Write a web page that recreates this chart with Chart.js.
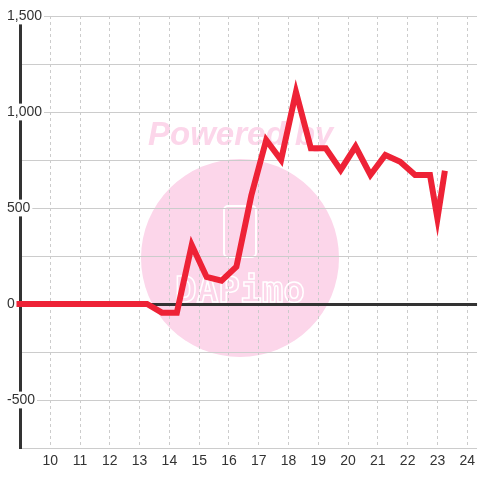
<!DOCTYPE html>
<html>
<head>
<meta charset="utf-8">
<script src="https://cdn.jsdelivr.net/npm/chart.js@4/dist/chart.umd.min.js"></script>
<style>
    body { margin: 0; background: #fff; }
    #wrap { width: 480px; height: 480px; }
</style>
</head>
<body>
<div id="wrap"><canvas id="lineChart"></canvas></div>
<script>
const ctx = document.getElementById('lineChart');

// hours of the day and the values
const hours = [8.75, 9.25, 9.75, 10.25, 10.75, 11.25, 11.75, 12.25, 12.75, 13.25,
    13.75, 14.25, 14.75, 15.25, 15.75, 16.25, 16.75, 17.25, 17.75, 18.25,
    18.75, 19.25, 19.75, 20.25, 20.75, 21.25, 21.75, 22.25, 22.75, 23.0, 23.25]
const values = [0, 0, 0, 0, 0, 0, 0, 0, 0, 0,
    -45, -45, 307, 141, 121, 194, 565, 854, 750, 1104,
    811, 811, 698, 820, 672, 776, 741, 672, 672, 446, 694]
const xTicks = [10, 11, 12, 13, 14, 15, 16, 17, 18, 19, 20, 21, 22, 23, 24]
const yLabelled = [-500, 0, 500, 1000, 1500]

const points = hours.map((h, idx) => {
    return { x: h, y: values[idx] }
})

Chart.defaults.font.family = "'Liberation Sans', Arial, sans-serif"
Chart.defaults.font.size = 14
Chart.defaults.color = '#333'

// pink "Powered by" watermark behind the grid
const watermark = {
    id: 'watermark',
    beforeDraw(chart) {
        const c = chart.ctx
        c.save()
        c.fillStyle = '#fcd6ea'
        c.beginPath()
        c.arc(240, 258, 99, 0, Math.PI * 2)
        c.fill()
        c.font = "italic bold 33px 'Liberation Sans', Arial, sans-serif"
        c.textBaseline = 'alphabetic'
        c.fillText('Powered by', 148, 145)
        c.strokeStyle = '#fff'
        c.lineWidth = 2
        c.beginPath()
        c.roundRect(224, 206, 32, 51, 4)
        c.stroke()
        c.font = "bold 36px 'DejaVu Sans Mono', monospace"
        c.lineWidth = 1.5
        c.strokeText('DAPimo', 175, 302)
        c.restore()
    }
}

const lineChart = new Chart(ctx, {
    type: 'line',
    data: {
        datasets: [{
            data: points,
            borderColor: 'rgb(238, 34, 54)',
            borderWidth: 6,
            borderJoinStyle: 'miter',
            pointRadius: 0,
            tension: 0,
            clip: { left: 4, top: 0, right: 0, bottom: 0 }
        }]
    },
    options: {
        responsive: true,
        maintainAspectRatio: false,
        animation: false,
        layout: { padding: { top: 16, left: 7, right: 0, bottom: 0 } },
        plugins: {
            legend: { display: false },
            tooltip: { enabled: false }
        },
        scales: {
            x: {
                type: 'linear',
                min: 9,
                max: 24.33,
                afterBuildTicks: (scale) => {
                    scale.ticks = xTicks.map((v) => ({ value: v }))
                },
                afterFit: (scale) => { scale.height = 32 },
                ticks: { padding: 5, color: '#333' },
                grid: { color: '#cccccc', drawTicks: false },
                border: { display: false, dash: [3, 3] }
            },
            y: {
                min: -750,
                max: 1500,
                afterFit: (scale) => { scale.width = 13.5 },
                ticks: {
                    stepSize: 250,
                    mirror: true,
                    crossAlign: 'near',
                    padding: -13.5,
                    color: '#333',
                    callback: (v) => yLabelled.includes(v) ? v.toLocaleString('en-US') : '',
                    showLabelBackdrop: (c) => yLabelled.includes(c.tick.value),
                    backdropColor: '#fff',
                    backdropPadding: { left: 1, right: 2, top: 0, bottom: 0 }
                },
                grid: {
                    drawTicks: false,
                    color: (c) => c.tick.value === 0 ? '#333' : '#cccccc',
                    lineWidth: (c) => c.tick.value === 0 ? 3 : 1
                },
                border: { display: true, color: '#333', width: 3 }
            }
        }
    },
    plugins: [watermark]
});
</script>
</body>
</html>
